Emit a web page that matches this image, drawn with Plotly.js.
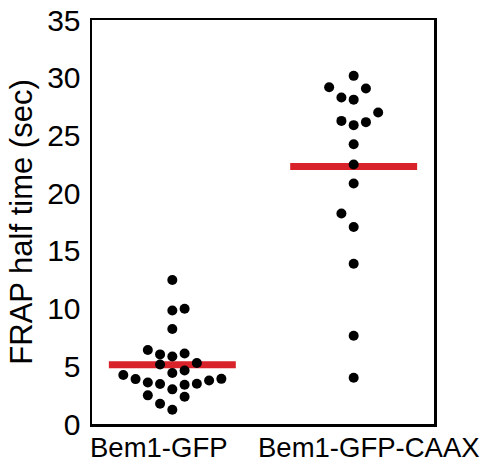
<!DOCTYPE html>
<html>
<head>
<meta charset="utf-8">
<script src="https://cdn.plot.ly/plotly-3.0.1.min.js"></script>
<style>
  html, body { margin: 0; padding: 0; background: #ffffff; }
  #chart { width: 498px; height: 476px; }
</style>
</head>
<body>
<div id="chart"></div>
<script>
// ---- data ----
const categories = ['Bem1-GFP', 'Bem1-GFP-CAAX'];
const bem1GFP = [1.24, 1.76, 2.36, 2.48, 3.00, 3.40, 3.46, 3.49, 3.60, 3.77, 3.89, 3.91, 4.24,
                 4.42, 4.64, 5.16, 5.28, 5.85, 6.03, 6.11, 6.41, 8.23, 9.84, 9.98, 12.47];
const bem1GFPCAAX = [4.01, 7.64, 13.88, 17.06, 18.23, 20.83, 22.48, 24.24, 25.89, 26.15, 26.26,
                     26.98, 28.10, 28.28, 29.06, 29.18, 30.16];
const meanValues = [5.13, 22.30];
const seriesValues = [bem1GFP, bem1GFPCAAX];

// ---- layout constants ----
const BIN_HEIGHT = 1.28;   // value units per swarm row
const COL_STEP = 0.0676;   // category units between swarm columns
const MEAN_HALF = 0.35;    // half width of the mean bar
const RED = '#d8232a';
const FONT = 'Liberation Sans, Arial, Helvetica, sans-serif';

// binned beeswarm: rows of similar values spread sideways, alternating sides
function swarmOffsets(vals) {
  const idx = vals.map((v, i) => i).sort((a, b) => vals[a] - vals[b]);
  const off = new Array(vals.length).fill(0);
  let side = -1;
  let k = 0;
  while (k < idx.length) {
    const start = vals[idx[k]];
    const bin = [];
    while (k < idx.length && vals[idx[k]] < start + BIN_HEIGHT) { bin.push(idx[k]); k++; }
    const count = { '-1': 0, '1': 0 };
    bin.forEach((id, j) => {
      if (j === 0) { off[id] = 0; return; }
      count[side] += 1;
      off[id] = side * count[side];
      side = -side;
    });
  }
  return off;
}

const traces = [];
// mean bars (under the points)
categories.forEach((c, i) => {
  traces.push({
    type: 'scatter', mode: 'lines',
    x: [i - MEAN_HALF, i + MEAN_HALF],
    y: [meanValues[i], meanValues[i]],
    line: { color: RED, width: 7 },
    hoverinfo: 'skip', showlegend: false
  });
});
// points
categories.forEach((c, i) => {
  const vals = seriesValues[i];
  const off = swarmOffsets(vals);
  traces.push({
    type: 'scatter', mode: 'markers', name: c,
    x: vals.map((v, j) => i + off[j] * COL_STEP),
    y: vals,
    marker: { color: '#000000', size: 10, line: { width: 0 } },
    showlegend: false
  });
});

const layout = {
  width: 498, height: 476,
  margin: { l: 92, r: 64, t: 20, b: 52 },
  paper_bgcolor: '#ffffff', plot_bgcolor: '#ffffff',
  font: { family: FONT, color: '#000000' },
  showlegend: false,
  xaxis: {
    range: [-0.443, 1.443],
    showgrid: false, zeroline: false,
    showline: true, mirror: true, linecolor: '#000000', linewidth: 2.5,
    ticks: '', showticklabels: false
  },
  yaxis: {
    range: [0, 35], tick0: 0, dtick: 5,
    showgrid: false, zeroline: false,
    showline: true, mirror: true, linecolor: '#000000', linewidth: 2.5,
    ticks: '', ticklabelstandoff: 3,
    tickfont: { family: FONT, size: 30, color: '#000000' },
    title: { text: 'FRAP half time (sec)', font: { family: FONT, size: 31, color: '#000000' }, standoff: 6 }
  },
  annotations: categories.map((c, i) => ({
    text: c, xref: 'x', yref: 'paper', x: i, y: 0,
    xanchor: 'center', yanchor: 'middle',
    xshift: i === 0 ? -13 : 15, yshift: -23,
    showarrow: false,
    font: { family: FONT, size: 27.5, color: '#000000' }
  }))
};

Plotly.newPlot('chart', traces, layout, { staticPlot: true, displayModeBar: false });
</script>
</body>
</html>
